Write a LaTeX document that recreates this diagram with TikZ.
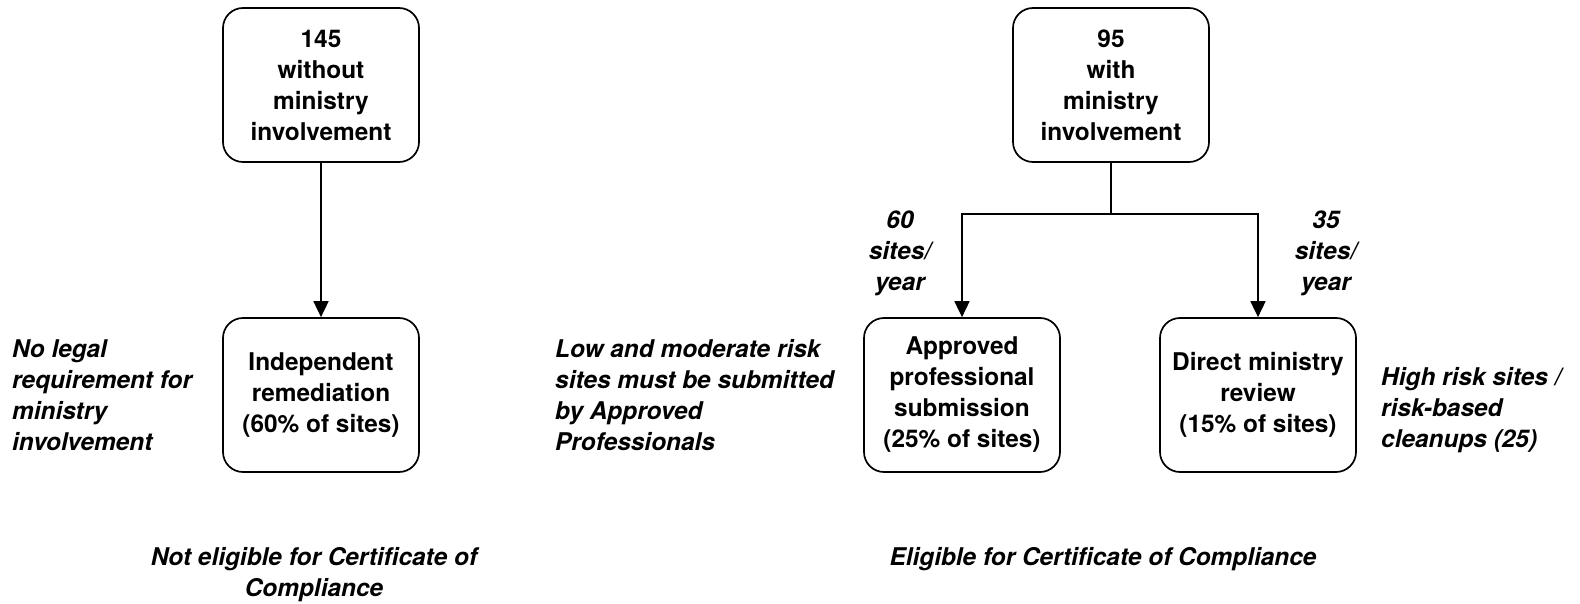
\documentclass[tikz,border=0pt]{standalone}
\usepackage{fontspec}
\setmainfont{TeX Gyre Heros}
\usetikzlibrary{arrows.meta}
\begin{document}
\begin{tikzpicture}[x=1pt,y=-1pt,
  every node/.style={font=\fontsize{24.4}{31}\selectfont\bfseries},
  box/.style={draw=black,line width=1.7pt,rounded corners=20pt,minimum width=196pt,minimum height=154pt,align=center,inner sep=0pt},
  note/.style={align=left,anchor=west,inner sep=0pt,font=\fontsize{24.4}{31}\selectfont\bfseries\itshape},
  cnote/.style={align=center,inner sep=0pt,font=\fontsize{24.4}{31}\selectfont\bfseries\itshape},
  arr/.style={line width=1.7pt,-{Triangle[width=15pt,length=16pt]}},
  plainline/.style={line width=1.7pt}]
\useasboundingbox (0,0) rectangle (1580,604);
\node[box] (b1) at (321,85) {145\\without\\ministry\\involvement};
\node[box] (b2) at (321,395) {Independent\\remediation\\(60\% of sites)};
\node[box] (b3) at (1111,85) {95\\with\\ministry\\involvement};
\node[box] (b4) at (962,395) {Approved\\professional\\submission\\(25\% of sites)};
\node[box] (b5) at (1258,395) {Direct ministry\\review\\(15\% of sites)};
\coordinate (j) at (1111,214);
\draw[arr] (b1) -- (b2);
\draw[plainline] (b3.south) -- (j);
\draw[arr] (j) -| (b4);
\draw[arr] (j) -| (b5);
\node[cnote] (l60) at (900,253) {60\\sites/\\year};
\node[cnote] (l35) at (1326,253) {35\\sites/\\year};
\node[note] (n1) at (12,395) {No legal\\requirement for\\ministry\\involvement};
\node[note] (n2) at (555,395) {Low and moderate risk\\sites must be submitted\\by Approved\\Professionals};
\node[note] (n3) at (1381,410) {High risk sites /\\risk-based\\cleanups (25)};
\node[cnote] (f1) at (314,574.5) {Not eligible for Certificate of\\Compliance};
\node[cnote] (f2) at (1103,559) {Eligible for Certificate of Compliance};
\end{tikzpicture}
\end{document}
